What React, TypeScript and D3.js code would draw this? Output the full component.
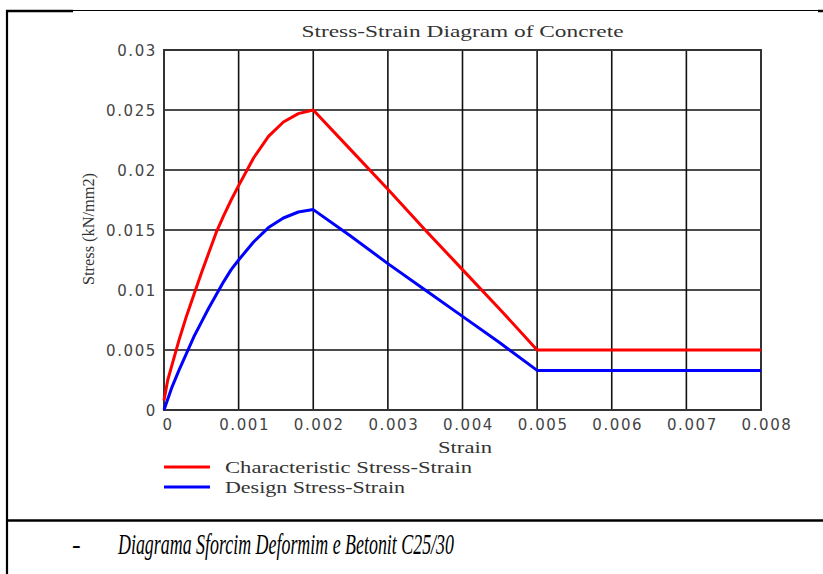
import React from "react";
import * as d3 from "d3";

const W = 823;
const H = 574;

// Strain (x) and stress in kN/mm2 (y)
const charStrain = [0, 0.00005, 0.0001, 0.0002, 0.0003, 0.0004, 0.0005, 0.0006, 0.0007, 0.0008, 0.0009, 0.001, 0.0012, 0.0014, 0.0016, 0.0018, 0.002, 0.0025, 0.003, 0.0035, 0.004, 0.0045, 0.005, 0.008];
const charStress = [0.0008, 0.0025, 0.0036, 0.0058, 0.0078, 0.0096, 0.0114, 0.0131, 0.0148, 0.0162, 0.0175, 0.0187, 0.021, 0.0228, 0.024, 0.0247, 0.025, 0.0217, 0.0184, 0.015, 0.0117, 0.0084, 0.005, 0.005];

const designStrain = [0, 0.0001, 0.0002, 0.0003, 0.0004, 0.0005, 0.0006, 0.0007, 0.0008, 0.0009, 0.001, 0.0012, 0.0014, 0.0016, 0.0018, 0.002, 0.0025, 0.003, 0.0035, 0.004, 0.0045, 0.005, 0.008];
const designStress = [0, 0.0018, 0.0033, 0.0047, 0.0061, 0.0073, 0.0085, 0.0096, 0.0107, 0.0117, 0.0125, 0.014, 0.0152, 0.016, 0.0165, 0.0167, 0.0145, 0.0122, 0.01, 0.0078, 0.0056, 0.0033, 0.0033];

const xTicks = [0, 0.001, 0.002, 0.003, 0.004, 0.005, 0.006, 0.007, 0.008];
const xTickLabels = ["0", "0.001", "0.002", "0.003", "0.004", "0.005", "0.006", "0.007", "0.008"];
const yTicks = [0, 0.005, 0.01, 0.015, 0.02, 0.025, 0.03];
const yTickLabels = ["0", "0.005", "0.01", "0.015", "0.02", "0.025", "0.03"];

const seriesNames = ["Characteristic Stress-Strain", "Design Stress-Strain"];
const seriesColors = ["#ff0000", "#0000ff"];

const title = "Stress-Strain Diagram of Concrete";
const xTitle = "Strain";
const yTitle = "Stress (kN/mm2)";
const caption = "Diagrama Sforcim Deformim e Betonit C25/30";

const plot = { left: 164, right: 761, top: 50, bottom: 410 };

export default function App() {
  const x = d3.scaleLinear().domain([0, 0.008]).range([plot.left, plot.right]);
  const y = d3.scaleLinear().domain([0, 0.03]).range([plot.bottom, plot.top]);

  const line = d3
    .line<[number, number]>()
    .x((d) => x(d[0]))
    .y((d) => y(d[1]));

  const charData: [number, number][] = charStrain.map((s, i) => [s, charStress[i]]);
  const designData: [number, number][] = designStrain.map((s, i) => [s, designStress[i]]);

  const serif = "'Liberation Serif', 'Times New Roman', serif";
  const sans = "'DejaVu Sans', Verdana, sans-serif";

  return (
    <svg
      width={W}
      height={H}
      viewBox={`0 0 ${W} ${H}`}
      style={{ position: "absolute", left: 0, top: 0, background: "#fff" }}
    >
      <rect x={0} y={0} width={W} height={H} fill="#fff" />
      {/* outer document frame */}
      <line x1={73} y1={10.5} x2={818} y2={10.5} stroke="#000" strokeWidth={1.2} />
      <line x1={6} y1={11} x2={73} y2={11} stroke="#000" strokeWidth={2.5} />
      <line x1={818} y1={11} x2={823} y2={11} stroke="#000" strokeWidth={2.5} />
      <line x1={7} y1={10} x2={7} y2={H} stroke="#000" strokeWidth={2.2} />
      <line x1={6} y1={520.5} x2={W} y2={520.5} stroke="#000" strokeWidth={2.5} />

      {/* title */}
      <text
        x={(plot.left + plot.right) / 2}
        y={37}
        textAnchor="middle"
        fontFamily={serif}
        fontSize={16}
        fill="#333"
        textLength={322}
        lengthAdjust="spacingAndGlyphs"
      >
        {title}
      </text>

      {/* grid */}
      {xTicks.map((t, i) => (
        <line key={"gx" + i} x1={x(t)} x2={x(t)} y1={plot.top} y2={plot.bottom} stroke="#111" strokeWidth={1.6} />
      ))}
      {yTicks.map((t, i) => (
        <line key={"gy" + i} x1={plot.left} x2={plot.right} y1={y(t)} y2={y(t)} stroke="#111" strokeWidth={1.6} />
      ))}
      {/* frame */}
      <rect
        x={plot.left}
        y={plot.top}
        width={plot.right - plot.left}
        height={plot.bottom - plot.top}
        fill="none"
        stroke="#333"
        strokeWidth={2}
      />

      {/* tick labels */}
      {xTicks.map((t, i) => (
        <text
          key={"tx" + i}
          x={x(t) + (i === 0 ? 4 : 6)}
          y={430}
          textAnchor="middle"
          fontFamily={sans}
          fontSize={15}
          letterSpacing={1.6}
          fill="#444"
        >
          {xTickLabels[i]}
        </text>
      ))}
      {yTicks.map((t, i) => (
        <text
          key={"ty" + i}
          x={157}
          y={y(t) + 5.5}
          textAnchor="end"
          fontFamily={sans}
          fontSize={15}
          letterSpacing={1.6}
          fill="#444"
        >
          {yTickLabels[i]}
        </text>
      ))}

      {/* axis titles */}
      <text
        x={465}
        y={453}
        textAnchor="middle"
        fontFamily={serif}
        fontSize={16}
        fill="#333"
        textLength={54}
        lengthAdjust="spacingAndGlyphs"
      >
        {xTitle}
      </text>
      <text
        transform={`translate(94,229) rotate(-90)`}
        textAnchor="middle"
        fontFamily={serif}
        fontSize={16}
        fill="#333"
        textLength={112}
        lengthAdjust="spacingAndGlyphs"
      >
        {yTitle}
      </text>

      {/* curves */}
      <path d={line(charData) || ""} fill="none" stroke={seriesColors[0]} strokeWidth={3} strokeLinejoin="round" />
      <path d={line(designData) || ""} fill="none" stroke={seriesColors[1]} strokeWidth={3} strokeLinejoin="round" />

      {/* legend */}
      {seriesNames.map((n, i) => (
        <g key={"lg" + i}>
          <line
            x1={164}
            x2={210}
            y1={467 + i * 20}
            y2={467 + i * 20}
            stroke={seriesColors[i]}
            strokeWidth={3}
          />
          <text
            x={225}
            y={473 + i * 20}
            fontFamily={serif}
            fontSize={16}
            fill="#333"
            textLength={i === 0 ? 247 : 180}
            lengthAdjust="spacingAndGlyphs"
          >
            {n}
          </text>
        </g>
      ))}

      {/* caption */}
      <text x={72} y={553} fontFamily={serif} fontSize={26} fill="#000">
        -
      </text>
      <text
        x={118}
        y={554}
        fontFamily={serif}
        fontStyle="italic"
        fontSize={30}
        fill="#000"
        textLength={336}
        lengthAdjust="spacingAndGlyphs"
      >
        {caption}
      </text>
    </svg>
  );
}
